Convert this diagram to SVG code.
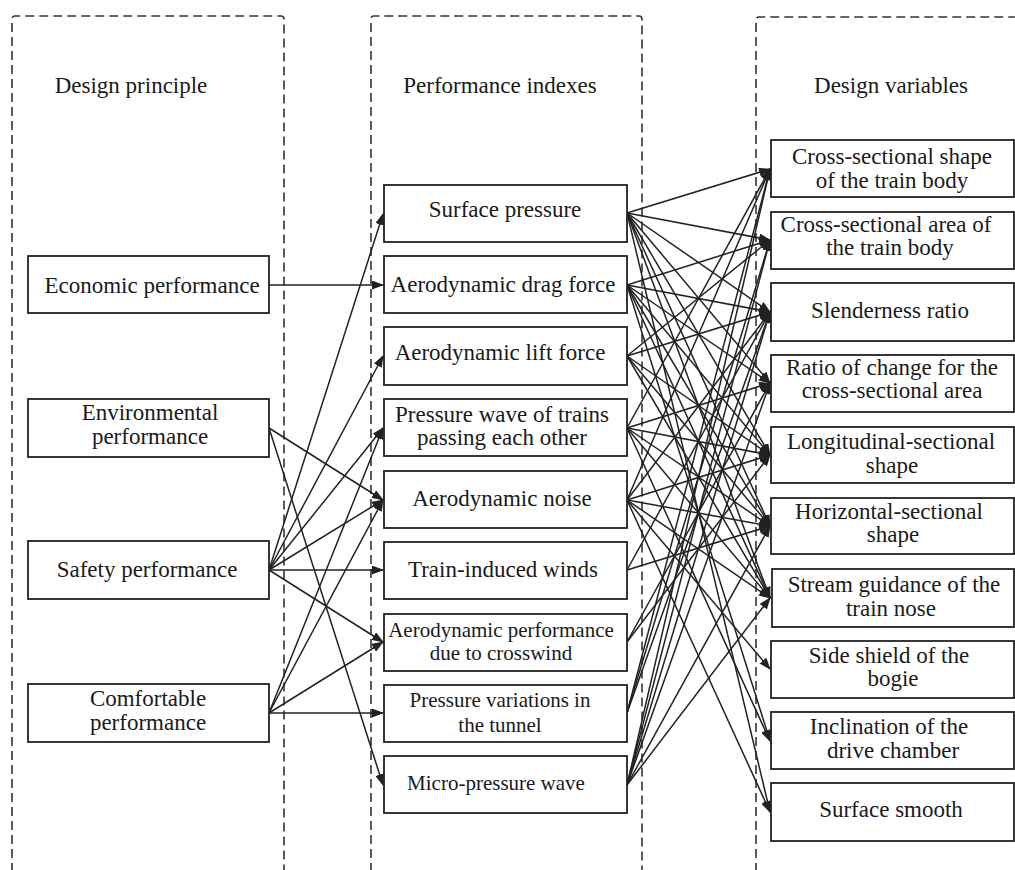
<svg xmlns="http://www.w3.org/2000/svg" width="1015" height="870" viewBox="0 0 1015 870">
<defs>
<style>
.col{fill:none;stroke:#333;stroke-width:1.6;stroke-dasharray:9 5}
.box{fill:#fff;stroke:#222;stroke-width:1.8}
.t{font-family:"Liberation Serif","Times New Roman",serif;font-size:23px;fill:#1a1a1a;text-anchor:middle}
.s{font-size:21px}
.c line{stroke:#222;stroke-width:1.5;marker-end:url(#ah)}
</style>
<marker id="ah" markerWidth="12" markerHeight="9" refX="11" refY="4.5" orient="auto" markerUnits="userSpaceOnUse"><path d="M0,0 L12,4.5 L0,9 z" fill="#222"/></marker>
</defs>
<rect width="1015" height="870" fill="#fff"/>
<g id="columns">
<path class="col" d="M12,872 V19 Q12,16 15,16 H281 Q284,16 284,19 V872"/>
<path class="col" d="M371,872 V19 Q371,16 374,16 H639 Q642,16 642,19 V872"/>
<path class="col" d="M756,872 V20 Q756,17 759,17 H1017"/>
<text class="t" x="131" y="93">Design principle</text>
<text class="t" x="500" y="93">Performance indexes</text>
<text class="t" x="891" y="93">Design variables</text>
</g>
<g id="connectors" class="c">
<line x1="269" y1="285" x2="383" y2="285"/>
<line x1="269" y1="428" x2="383" y2="500"/>
<line x1="269" y1="428" x2="383" y2="785"/>
<line x1="269" y1="570" x2="383" y2="214"/>
<line x1="269" y1="570" x2="383" y2="356"/>
<line x1="269" y1="570" x2="383" y2="428"/>
<line x1="269" y1="570" x2="383" y2="500"/>
<line x1="269" y1="570" x2="383" y2="570"/>
<line x1="269" y1="570" x2="383" y2="642"/>
<line x1="269" y1="713" x2="383" y2="428"/>
<line x1="269" y1="713" x2="383" y2="500"/>
<line x1="269" y1="713" x2="383" y2="642"/>
<line x1="269" y1="713" x2="383" y2="713"/>
<line x1="627" y1="213" x2="770" y2="169"/>
<line x1="627" y1="213" x2="770" y2="240"/>
<line x1="627" y1="213" x2="770" y2="312"/>
<line x1="627" y1="213" x2="770" y2="383"/>
<line x1="627" y1="213" x2="770" y2="455"/>
<line x1="627" y1="213" x2="770" y2="526"/>
<line x1="627" y1="213" x2="770" y2="598"/>
<line x1="627" y1="213" x2="770" y2="812"/>
<line x1="627" y1="285" x2="770" y2="240"/>
<line x1="627" y1="285" x2="770" y2="312"/>
<line x1="627" y1="285" x2="770" y2="383"/>
<line x1="627" y1="285" x2="770" y2="455"/>
<line x1="627" y1="285" x2="770" y2="526"/>
<line x1="627" y1="285" x2="770" y2="598"/>
<line x1="627" y1="285" x2="770" y2="741"/>
<line x1="627" y1="356" x2="770" y2="240"/>
<line x1="627" y1="356" x2="770" y2="312"/>
<line x1="627" y1="356" x2="770" y2="455"/>
<line x1="627" y1="356" x2="770" y2="526"/>
<line x1="627" y1="356" x2="770" y2="598"/>
<line x1="627" y1="428" x2="770" y2="169"/>
<line x1="627" y1="428" x2="770" y2="383"/>
<line x1="627" y1="428" x2="770" y2="455"/>
<line x1="627" y1="428" x2="770" y2="526"/>
<line x1="627" y1="428" x2="770" y2="598"/>
<line x1="627" y1="428" x2="770" y2="741"/>
<line x1="627" y1="500" x2="770" y2="169"/>
<line x1="627" y1="500" x2="770" y2="312"/>
<line x1="627" y1="500" x2="770" y2="455"/>
<line x1="627" y1="500" x2="770" y2="526"/>
<line x1="627" y1="500" x2="770" y2="598"/>
<line x1="627" y1="500" x2="770" y2="669"/>
<line x1="627" y1="500" x2="770" y2="812"/>
<line x1="627" y1="570" x2="770" y2="312"/>
<line x1="627" y1="570" x2="770" y2="526"/>
<line x1="627" y1="642" x2="770" y2="383"/>
<line x1="627" y1="642" x2="770" y2="455"/>
<line x1="627" y1="713" x2="770" y2="169"/>
<line x1="627" y1="713" x2="770" y2="240"/>
<line x1="627" y1="713" x2="770" y2="312"/>
<line x1="627" y1="785" x2="770" y2="169"/>
<line x1="627" y1="785" x2="770" y2="240"/>
<line x1="627" y1="785" x2="770" y2="312"/>
<line x1="627" y1="785" x2="770" y2="383"/>
<line x1="627" y1="785" x2="770" y2="526"/>
<line x1="627" y1="785" x2="770" y2="598"/>
</g>
<g id="n-economic"><rect class="box" x="28" y="256" width="241" height="57"/><text class="t" x="152" y="293">Economic performance</text></g>
<g id="n-environmental"><rect class="box" x="28" y="399" width="241" height="58"/><text class="t" x="150" y="420">Environmental</text><text class="t" x="150" y="444">performance</text></g>
<g id="n-safety"><rect class="box" x="28" y="541" width="241" height="58"/><text class="t" x="147" y="577">Safety performance</text></g>
<g id="n-comfortable"><rect class="box" x="28" y="684" width="241" height="58"/><text class="t" x="148" y="706">Comfortable</text><text class="t" x="148" y="730">performance</text></g>
<g id="n-surface-pressure"><rect class="box" x="384" y="185" width="243" height="57"/><text class="t" x="505" y="217">Surface pressure</text></g>
<g id="n-drag"><rect class="box" x="384" y="256" width="243" height="57"/><text class="t" x="503" y="292">Aerodynamic drag force</text></g>
<g id="n-lift"><rect class="box" x="384" y="327" width="243" height="58"/><text class="t" x="500" y="360">Aerodynamic lift force</text></g>
<g id="n-pressure-wave"><rect class="box" x="384" y="399" width="243" height="57"/><text class="t" x="502" y="422">Pressure wave of trains</text><text class="t" x="502" y="445">passing each other</text></g>
<g id="n-noise"><rect class="box" x="384" y="471" width="243" height="57"/><text class="t" x="502" y="506">Aerodynamic noise</text></g>
<g id="n-winds"><rect class="box" x="384" y="542" width="243" height="57"/><text class="t" x="503" y="577">Train-induced winds</text></g>
<g id="n-crosswind"><rect class="box" x="384" y="614" width="243" height="57"/><text class="t s" x="501" y="637">Aerodynamic performance</text><text class="t s" x="501" y="660">due to crosswind</text></g>
<g id="n-tunnel"><rect class="box" x="384" y="685" width="243" height="57"/><text class="t s" x="500" y="707">Pressure variations in</text><text class="t s" x="500" y="732">the tunnel</text></g>
<g id="n-micro"><rect class="box" x="384" y="756" width="243" height="57"/><text class="t s" x="496" y="790">Micro-pressure wave</text></g>
<g id="n-cs-shape"><rect class="box" x="771" y="140" width="243" height="57"/><text class="t" x="892" y="164">Cross-sectional shape</text><text class="t" x="892" y="188">of the train body</text></g>
<g id="n-cs-area"><rect class="box" x="771" y="212" width="243" height="57"/><text class="t" x="886" y="232">Cross-sectional area of</text><text class="t" x="890" y="255">the train body</text></g>
<g id="n-slender"><rect class="box" x="771" y="283" width="243" height="58"/><text class="t" x="890" y="318">Slenderness ratio</text></g>
<g id="n-ratio"><rect class="box" x="771" y="355" width="243" height="57"/><text class="t" x="892" y="375">Ratio of change for the</text><text class="t" x="892" y="398">cross-sectional area</text></g>
<g id="n-longitudinal"><rect class="box" x="771" y="427" width="243" height="56"/><text class="t" x="891" y="449">Longitudinal-sectional</text><text class="t" x="892" y="473">shape</text></g>
<g id="n-horizontal"><rect class="box" x="771" y="498" width="243" height="56"/><text class="t" x="889" y="519">Horizontal-sectional</text><text class="t" x="893" y="542">shape</text></g>
<g id="n-stream"><rect class="box" x="772" y="569" width="242" height="58"/><text class="t" x="894" y="592">Stream guidance of the</text><text class="t" x="891" y="616">train nose</text></g>
<g id="n-side-shield"><rect class="box" x="771" y="641" width="243" height="57"/><text class="t" x="889" y="663">Side shield of the</text><text class="t" x="893" y="686">bogie</text></g>
<g id="n-inclination"><rect class="box" x="771" y="712" width="243" height="57"/><text class="t" x="889" y="734">Inclination of the</text><text class="t" x="893" y="758">drive chamber</text></g>
<g id="n-smooth"><rect class="box" x="771" y="783" width="243" height="58"/><text class="t" x="891" y="817">Surface smooth</text></g>
</svg>
